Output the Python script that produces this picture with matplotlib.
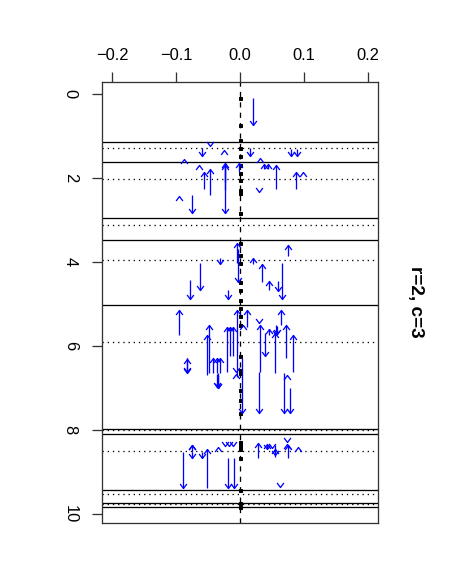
import matplotlib
matplotlib.use("Agg")
import matplotlib.pyplot as plt
from matplotlib.path import Path
import numpy as np

plt.rcParams['font.family'] = ['Liberation Sans', 'DejaVu Sans']

# ---- data (x = effect, v = position along the sequence) ----
arrow_x = [0.021,
           -0.059, 0.015, 0.080, 0.089,
           -0.057, -0.047, -0.024, -0.023, -0.024, -0.001, 0.038, 0.044, 0.056, 0.087, -0.075,
           0.0745, -0.031, 0.021, 0.034, -0.0625, -0.078, -0.018, 0.045, 0.059, 0.065, -0.005, -0.003,
           -0.095, -0.049, -0.051, -0.042, -0.036, -0.031, -0.035, -0.034, -0.036, -0.083, -0.082,
           -0.020, -0.016, -0.011, -0.005, 0.0026, 0.0104, 0.032, 0.030, 0.039, 0.046, 0.057, 0.058,
           0.054, 0.064, 0.072, 0.083, 0.068, 0.078,
           -0.0885, -0.0745, -0.0745, -0.060, -0.052, -0.018, -0.0094, 0.0286, 0.042, 0.055, 0.054, 0.0745]
arrow_from = [0.10,
              1.29, 1.29, 1.31, 1.31,
              2.27, 2.40, 2.10, 2.30, 1.77, 1.85, 1.78, 1.78, 2.27, 2.27, 2.40,
              3.87, 3.91, 4.05, 4.47, 4.03, 4.43, 4.67, 4.68, 4.45, 4.03, 4.02, 3.70,
              5.74, 6.65, 6.69, 6.65, 6.65, 6.65, 6.65, 6.70, 6.68, 6.29, 6.29,
              6.61, 6.25, 6.25, 6.73, 6.29, 5.54, 6.61, 6.61, 5.70, 5.74, 5.50, 5.52,
              6.65, 5.50, 6.29, 6.61, 6.65, 7.00,
              8.52, 8.52, 8.52, 8.52, 9.39, 8.67, 8.67, 8.67, 8.45, 8.35, 8.65, 8.67]
arrow_to = [0.74,
            1.49, 1.48, 1.48, 1.48,
            1.85, 1.79, 1.65, 1.70, 2.84, 1.65, 1.67, 1.67, 1.69, 1.85, 2.84,
            3.60, 4.06, 3.90, 4.05, 4.68, 4.88, 4.88, 4.45, 4.70, 4.88, 3.56, 4.47,
            5.14, 5.50, 5.74, 6.29, 6.29, 6.29, 7.00, 7.00, 6.98, 6.65, 6.62,
            5.54, 5.54, 5.54, 5.14, 7.60, 5.14, 5.50, 7.60, 6.25, 5.60, 5.74, 5.72,
            5.70, 5.14, 5.50, 5.74, 7.60, 7.60,
            9.39, 8.37, 8.67, 8.67, 8.45, 9.39, 9.39, 8.32, 8.33, 8.60, 8.45, 8.37]

# arrow heads without visible shaft (very short arrows): direction +1 = pointing to larger v (down)
head_x = [-0.047, -0.025, -0.087, 0.031, -0.064,
          0.098, -0.096, 0.030,
          -0.083, -0.006, -0.006, 0.005, 0.030, 0.073,
          -0.0745, -0.035, -0.023, -0.017, -0.011, 0.042, 0.050, 0.073, 0.073, 0.091, 0.0625]
head_y = [1.23, 1.33, 1.55, 1.52, 1.69,
          1.85, 2.43, 2.33,
          6.31, 6.62, 6.66, 5.50, 5.46, 6.70,
          8.37, 8.40, 8.38, 8.38, 8.38, 8.45, 8.42, 8.30, 8.34, 8.40, 9.37]
head_dir = [1, -1, -1, -1, -1,
            -1, -1, 1,
            -1, 1, -1, -1, 1, -1,
            -1, -1, 1, 1, 1, 1, 1, 1, -1, -1, 1]

solid_lines = [1.15, 1.63, 2.96, 3.49, 5.02, 7.98, 8.10, 9.43, 9.73, 9.83]
dotted_lines = [1.29, 2.02, 3.12, 3.95, 5.90, 8.00, 8.50, 9.53, 9.77]
dot_y = [0.10, 0.74, 1.10, 1.29, 1.49, 1.69, 1.88, 2.05, 2.29, 2.36, 2.84, 3.55, 3.83,
         4.02, 4.47, 4.67, 4.90, 5.10, 5.30, 5.50, 6.25, 6.57, 6.64, 7.05, 7.29, 7.59,
         8.28, 8.35, 8.40, 8.45, 8.67, 9.43, 9.75, 9.83]

x_ticks = [-0.2, -0.1, 0.0, 0.1, 0.2]
x_ticklabels = ['\u22120.2', '\u22120.1', '0.0', '0.1', '0.2']
y_ticks = [0, 2, 4, 6, 8, 10]
title = 'r=2, c=3'

# ---- figure ----
W, H = 461, 564
LW = 1.3
fig = plt.figure(figsize=(W / 72, H / 72), dpi=72)
ax = fig.add_axes([101.7 / W, 1 - 522.7 / H, 276.6 / W, 441.0 / H])
ax.set_xlim(-0.216, 0.216)
ax.set_ylim(10.21, -0.29)

for v in solid_lines:
    ax.axhline(v, color='black', lw=LW)
for v in dotted_lines:
    ax.axhline(v, color='black', lw=LW, ls=(0, (1, 3)))

ax.axvline(0, color='black', lw=LW, ls=(0, (4, 4)))
ax.plot([0] * len(dot_y), dot_y, ls='none', marker='s', ms=3.0, color='black')

up_head = Path([(-0.75, -1), (0, 0), (0.75, -1)], [Path.MOVETO, Path.LINETO, Path.LINETO])
down_head = Path([(-0.75, 1), (0, 0), (0.75, 1)], [Path.MOVETO, Path.LINETO, Path.LINETO])

blue = '#0000FF'
ax.vlines(arrow_x, arrow_from, arrow_to, colors=blue, lw=LW)
ax_arr = np.array(arrow_x)
af = np.array(arrow_from)
at = np.array(arrow_to)
up = at < af
MS = 9
ax.plot(ax_arr[up], at[up], ls='none', marker=up_head, ms=MS, mec=blue, mfc='none', mew=LW)
ax.plot(ax_arr[~up], at[~up], ls='none', marker=down_head, ms=MS, mec=blue, mfc='none', mew=LW)

hx = np.array(head_x)
hy = np.array(head_y)
hd = np.array(head_dir)
ax.plot(hx[hd < 0], hy[hd < 0], ls='none', marker=up_head, ms=MS, mec=blue, mfc='none', mew=LW)
ax.plot(hx[hd > 0], hy[hd > 0], ls='none', marker=down_head, ms=MS, mec=blue, mfc='none', mew=LW)

ax.xaxis.tick_top()
ax.set_xticks(x_ticks)
ax.set_xticklabels(x_ticklabels)
ax.set_yticks(y_ticks)
ax.set_yticklabels([str(t) for t in y_ticks], rotation=-90, va='center')
ax.tick_params(axis='x', length=10, width=LW, pad=9, labelsize=16.5, color='#333333')
ax.tick_params(axis='y', length=10, width=LW, pad=14, labelsize=16.5, color='#333333')
for s in ax.spines.values():
    s.set_linewidth(LW)
    s.set_color('#333333')

fig.text(415 / W, 1 - 302 / H, title, rotation=-90, ha='center', va='center',
         fontsize=19, fontweight='bold')

fig.savefig('out.png', dpi=72)
